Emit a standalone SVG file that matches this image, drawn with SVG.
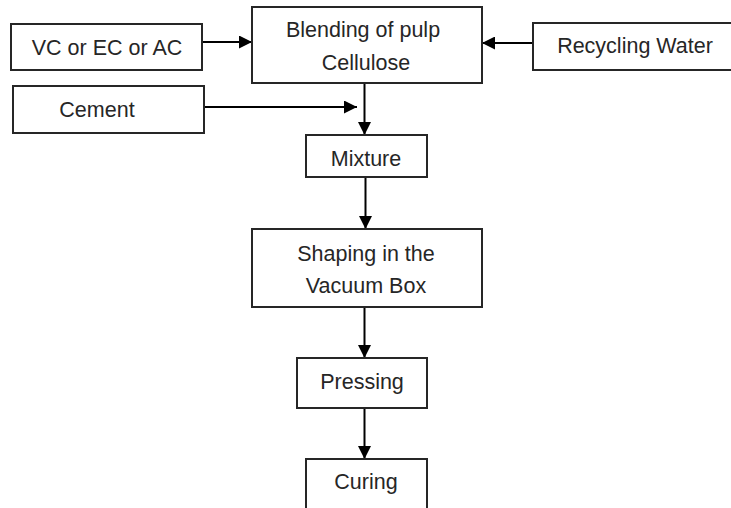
<svg xmlns="http://www.w3.org/2000/svg" width="731" height="508" viewBox="0 0 731 508">
<defs>
<style>
.box{fill:#fff;stroke:#262626;stroke-width:2}
.t{font-family:"Liberation Sans",Arial,sans-serif;font-size:21.5px;fill:#262626;text-anchor:middle}
.c{stroke:#000;stroke-width:2;fill:none;marker-end:url(#ah)}
</style>
<marker id="ah" viewBox="0 0 10 10" refX="10" refY="5" markerWidth="6.5" markerHeight="6.5" markerUnits="strokeWidth" orient="auto">
<path d="M0,0 L10,5 L0,10 Z" fill="#000"/>
</marker>
</defs>
<rect width="731" height="508" fill="#fff"/>
<g id="connectors">
<line class="c" x1="202" y1="42" x2="252" y2="42"/>
<line class="c" x1="533" y1="43" x2="482" y2="43"/>
<line class="c" x1="204" y1="107" x2="357" y2="107"/>
<line class="c" x1="364.5" y1="83" x2="364.5" y2="135"/>
<line class="c" x1="365.5" y1="177" x2="365.5" y2="229"/>
<line class="c" x1="364.5" y1="307" x2="364.5" y2="358"/>
<line class="c" x1="364.5" y1="408" x2="364.5" y2="459"/>
</g>
<g id="vc"><rect class="box" x="11" y="24" width="191" height="46"/><text class="t" x="107" y="55">VC or EC or AC</text></g>
<g id="blending"><rect class="box" x="252" y="7" width="230" height="76"/><text class="t" x="363" y="37">Blending of pulp</text><text class="t" x="366" y="70">Cellulose</text></g>
<g id="recycling"><rect class="box" x="533" y="23" width="202" height="47"/><text class="t" x="635" y="53">Recycling Water</text></g>
<g id="cement"><rect class="box" x="13" y="86" width="191" height="47"/><text class="t" x="97" y="117">Cement</text></g>
<g id="mixture"><rect class="box" x="306" y="135" width="121" height="42"/><text class="t" x="366" y="166">Mixture</text></g>
<g id="shaping"><rect class="box" x="252" y="229" width="230" height="78"/><text class="t" x="366" y="261">Shaping in the</text><text class="t" x="366" y="293">Vacuum Box</text></g>
<g id="pressing"><rect class="box" x="297" y="358" width="130" height="50"/><text class="t" x="362" y="389">Pressing</text></g>
<g id="curing"><rect class="box" x="306" y="459" width="121" height="55"/><text class="t" x="366" y="489">Curing</text></g>
</svg>
